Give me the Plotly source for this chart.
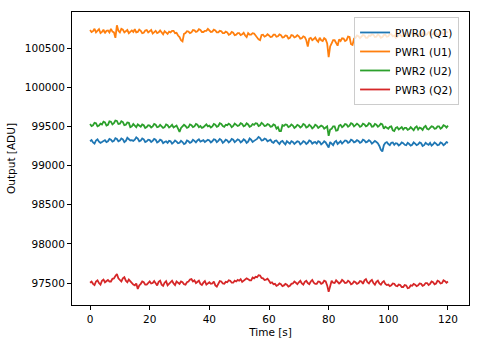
import plotly.graph_objects as go

# time grid: 0 .. 120 s in 0.5 s steps
time_s = [i * 0.5 for i in range(241)]

pwr0_q1 = [
    99310, 99325, 99295, 99280, 99320, 99335, 99305, 99290, 99300, 99315, 99325, 99300, 99310, 99340, 99330, 99305, 99315, 99350, 99340, 99310,
    99320, 99345, 99335, 99300, 99315, 99355, 99340, 99320, 99325, 99315, 99330, 99360, 99345, 99310, 99320, 99345, 99335, 99300, 99310, 99330,
    99325, 99300, 99315, 99340, 99330, 99295, 99305, 99330, 99320, 99285, 99300, 99310, 99290, 99315, 99310, 99280, 99295, 99320, 99305, 99285,
    99290, 99315, 99300, 99275, 99285, 99320, 99310, 99290, 99300, 99330, 99315, 99295, 99320, 99335, 99305, 99310, 99325, 99300, 99310, 99330,
    99320, 99295, 99310, 99335, 99330, 99300, 99315, 99340, 99325, 99290, 99305, 99330, 99320, 99295, 99310, 99340, 99330, 99300, 99315, 99335,
    99325, 99295, 99310, 99335, 99320, 99290, 99305, 99345, 99330, 99300, 99315, 99325, 99340, 99365, 99350, 99320, 99325, 99345, 99335, 99310,
    99320, 99330, 99300, 99290, 99315, 99320, 99295, 99275, 99305, 99315, 99290, 99270, 99310, 99295, 99280, 99310, 99300, 99275, 99290, 99310,
    99305, 99270, 99285, 99310, 99300, 99275, 99290, 99320, 99310, 99280, 99295, 99300, 99280, 99310, 99300, 99270, 99285, 99310, 99295, 99270,
    99230, 99300, 99280, 99260, 99300, 99315, 99275, 99290, 99310, 99280, 99295, 99320, 99315, 99290, 99300, 99330, 99320, 99295, 99305, 99325,
    99315, 99290, 99300, 99330, 99320, 99295, 99305, 99325, 99310, 99280, 99295, 99315, 99300, 99285, 99250, 99200, 99180, 99260, 99290, 99300,
    99275, 99260, 99290, 99295, 99265, 99285, 99280, 99255, 99270, 99295, 99285, 99265, 99260, 99290, 99275, 99255, 99265, 99295, 99280, 99260,
    99270, 99295, 99285, 99250, 99260, 99290, 99275, 99265, 99290, 99255, 99270, 99295, 99280, 99260, 99265, 99295, 99285, 99260, 99275, 99300,
    99290,
]

pwr1_u1 = [
    100730, 100705, 100715, 100745, 100700, 100720, 100740, 100690, 100705, 100735, 100690, 100720, 100725, 100700, 100745, 100710, 100700, 100630, 100790, 100720,
    100700, 100745, 100735, 100700, 100710, 100730, 100690, 100715, 100725, 100705, 100740, 100700, 100705, 100735, 100720, 100690, 100695, 100725, 100730, 100700,
    100710, 100730, 100685, 100705, 100720, 100690, 100700, 100725, 100690, 100675, 100715, 100690, 100680, 100710, 100700, 100720, 100720, 100690, 100695, 100660,
    100640, 100600, 100585, 100680, 100690, 100715, 100710, 100690, 100700, 100730, 100725, 100705, 100715, 100740, 100730, 100705, 100705, 100720, 100720, 100745,
    100730, 100705, 100710, 100735, 100725, 100700, 100700, 100720, 100715, 100690, 100690, 100710, 100700, 100670, 100680, 100705, 100695, 100665, 100670, 100690,
    100690, 100665, 100675, 100695, 100660, 100640, 100690, 100670, 100670, 100690, 100685, 100655, 100640, 100610, 100600, 100665, 100670, 100645, 100655, 100675,
    100660, 100640, 100645, 100670, 100670, 100645, 100650, 100675, 100665, 100635, 100640, 100660, 100655, 100620, 100630, 100665, 100660, 100635, 100645, 100665,
    100650, 100620, 100625, 100650, 100640, 100600, 100520, 100620, 100630, 100600, 100615, 100635, 100600, 100580, 100630, 100600, 100590, 100625, 100610, 100560,
    100385, 100520, 100560, 100600, 100600, 100555, 100530, 100610, 100590, 100625, 100620, 100590, 100600, 100645, 100640, 100550, 100540, 100620, 100630, 100660,
    100650, 100625, 100640, 100665, 100660, 100630, 100630, 100660, 100655, 100675, 100670, 100640, 100645, 100675, 100660, 100630, 100640, 100665, 100670, 100645,
    100650, 100680, 100675, 100650, 100660, 100630, 100640, 100675, 100670, 100645, 100655, 100690, 100680, 100650, 100660, 100695, 100690, 100660, 100665, 100690,
    100680, 100650, 100660, 100695, 100690, 100665, 100675, 100705, 100700, 100670, 100680, 100700, 100690, 100660, 100670, 100705, 100700, 100675, 100685, 100710,
    100695,
]

pwr2_u2 = [
    99530, 99505, 99515, 99545, 99540, 99500, 99510, 99535, 99525, 99560, 99550, 99510, 99520, 99565, 99560, 99525, 99540, 99575, 99570, 99530,
    99535, 99565, 99555, 99515, 99520, 99550, 99545, 99490, 99500, 99530, 99510, 99490, 99525, 99510, 99495, 99525, 99515, 99480, 99490, 99515,
    99510, 99485, 99500, 99530, 99520, 99490, 99495, 99520, 99505, 99480, 99490, 99525, 99515, 99485, 99500, 99520, 99485, 99500, 99510, 99470,
    99430, 99480, 99495, 99520, 99505, 99480, 99490, 99525, 99515, 99490, 99500, 99530, 99520, 99490, 99505, 99480, 99490, 99515, 99525, 99500,
    99510, 99485, 99500, 99530, 99520, 99495, 99505, 99540, 99530, 99505, 99495, 99520, 99515, 99535, 99520, 99490, 99505, 99535, 99525, 99505,
    99515, 99540, 99530, 99500, 99510, 99540, 99525, 99495, 99505, 99530, 99520, 99540, 99535, 99505, 99515, 99545, 99530, 99505, 99510, 99530,
    99520, 99495, 99500, 99525, 99515, 99470, 99490, 99440, 99440, 99515, 99505, 99525, 99520, 99490, 99500, 99525, 99510, 99480, 99495, 99520,
    99510, 99485, 99500, 99530, 99520, 99485, 99495, 99520, 99505, 99475, 99490, 99520, 99510, 99480, 99495, 99510, 99500, 99470, 99485, 99500,
    99380, 99460, 99470, 99500, 99500, 99445, 99450, 99510, 99520, 99490, 99505, 99530, 99525, 99495, 99510, 99540, 99530, 99500, 99515, 99535,
    99520, 99495, 99505, 99535, 99525, 99500, 99510, 99540, 99530, 99495, 99500, 99530, 99520, 99495, 99510, 99535, 99525, 99470, 99495, 99485,
    99470, 99495, 99500, 99450, 99440, 99480, 99490, 99460, 99475, 99490, 99460, 99480, 99480, 99455, 99465, 99490, 99470, 99450, 99485, 99500,
    99460, 99485, 99475, 99455, 99490, 99505, 99470, 99460, 99480, 99500, 99495, 99470, 99475, 99500, 99500, 99470, 99485, 99515, 99505, 99485,
    99510,
]

pwr3_q2 = [
    97505, 97520, 97490, 97475, 97520, 97535, 97500, 97480, 97530, 97545, 97510, 97530, 97540, 97520, 97520, 97555, 97560, 97590, 97615, 97560,
    97540, 97520, 97560, 97575, 97530, 97510, 97545, 97520, 97500, 97480, 97470, 97495, 97425, 97470, 97490, 97520, 97510, 97480, 97480, 97505,
    97520, 97495, 97500, 97525, 97490, 97470, 97515, 97530, 97480, 97465, 97505, 97525, 97470, 97490, 97510, 97530, 97495, 97475, 97520, 97505,
    97490, 97520, 97510, 97485, 97480, 97510, 97520, 97545, 97550, 97520, 97535, 97500, 97510, 97530, 97490, 97475, 97505, 97525, 97480, 97500,
    97510, 97490, 97495, 97520, 97470, 97455, 97500, 97525, 97520, 97495, 97490, 97515, 97510, 97535, 97530, 97505, 97505, 97530, 97520, 97540,
    97530, 97550, 97515, 97530, 97540, 97560, 97550, 97535, 97535, 97570, 97560, 97580, 97575, 97600, 97595, 97565, 97560, 97540, 97545, 97555,
    97530, 97500, 97510, 97485, 97490, 97465, 97475, 97495, 97485, 97460, 97470, 97490, 97480, 97455, 97465, 97490, 97495, 97520, 97505, 97485,
    97510, 97530, 97495, 97480, 97515, 97530, 97500, 97485, 97520, 97540, 97505, 97490, 97490, 97520, 97515, 97490, 97500, 97530, 97520, 97470,
    97390, 97480, 97530, 97505, 97500, 97535, 97520, 97495, 97510, 97540, 97525, 97500, 97505, 97530, 97515, 97485, 97495, 97520, 97510, 97490,
    97500, 97525, 97520, 97490, 97535, 97550, 97510, 97495, 97525, 97540, 97500, 97480, 97515, 97530, 97495, 97480, 97510, 97525, 97490, 97475,
    97480, 97460, 97470, 97495, 97490, 97465, 97460, 97480, 97475, 97450, 97450, 97475, 97470, 97435, 97440, 97470, 97465, 97490, 97480, 97460,
    97470, 97495, 97490, 97465, 97475, 97500, 97500, 97475, 97490, 97520, 97510, 97485, 97495, 97530, 97520, 97495, 97500, 97535, 97525, 97505,
    97520,
]

series_names = ["PWR0 (Q1)", "PWR1 (U1)", "PWR2 (U2)", "PWR3 (Q2)"]
series_values = [pwr0_q1, pwr1_u1, pwr2_u2, pwr3_q2]
colors = ["#1f77b4", "#ff7f0e", "#2ca02c", "#d62728"]

y_ticks = [97500, 98000, 98500, 99000, 99500, 100000, 100500]
x_ticks = [0, 20, 40, 60, 80, 100, 120]

fig = go.Figure()
for name, vals, col in zip(series_names, series_values, colors):
    fig.add_trace(go.Scatter(x=time_s, y=vals, mode="lines", name=name,
                             line=dict(color=col, width=1.8)))

FS = 10.5
axis_common = dict(showline=True, linecolor="black", linewidth=1, mirror=True,
                   ticks="outside", ticklen=4, tickcolor="black", showgrid=False,
                   zeroline=False, tickfont=dict(size=FS, color="black"))

fig.update_layout(
    width=480, height=347,
    margin=dict(l=72, r=10, t=12, b=40),
    paper_bgcolor="white", plot_bgcolor="white",
    font=dict(family="DejaVu Sans", size=FS, color="black"),
    xaxis=dict(range=[-6.05, 127.05], tickvals=x_ticks, tickformat="d",
               title=dict(text="Time [s]", font=dict(size=FS), standoff=5),
               **axis_common),
    yaxis=dict(range=[97220, 100960], tickvals=y_ticks, tickformat="d",
               title=dict(text="Output [ADU]", font=dict(size=FS), standoff=7),
               **axis_common),
    legend=dict(x=0.975, y=0.983, xanchor="right", yanchor="top",
                bgcolor="rgba(255,255,255,0.8)", bordercolor="#cccccc",
                borderwidth=1, font=dict(size=FS), tracegroupgap=0),
    showlegend=True,
)

fig.write_html("out.html")
